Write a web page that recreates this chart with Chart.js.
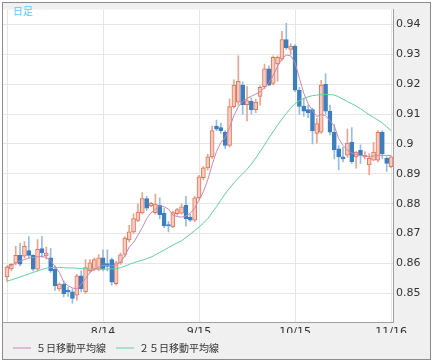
<!DOCTYPE html>
<html><head><meta charset="utf-8">
<script src="https://cdn.jsdelivr.net/npm/chart.js@4.4.1/dist/chart.umd.min.js"></script>
<style>html,body{margin:0;padding:0;background:#fff;}#wrap{width:434px;height:363px;position:relative;}</style>
</head><body><div id="wrap"><canvas id="c"></canvas></div>
<script>
// ---- data ----
const dates = ['7/15','7/16','7/17','7/20','7/21','7/22','7/23','7/24','7/27','7/28','7/29','7/30','7/31',
'8/3','8/4','8/5','8/6','8/7','8/10','8/11','8/12','8/13','8/14','8/17','8/18','8/19','8/20','8/21','8/24','8/25','8/26','8/27','8/28','8/31',
'9/1','9/2','9/3','9/4','9/7','9/8','9/9','9/10','9/11','9/14','9/15','9/16','9/17','9/18','9/21','9/22','9/23','9/24','9/25','9/28','9/29','9/30',
'10/1','10/2','10/5','10/6','10/7','10/8','10/9','10/12','10/13','10/14','10/15','10/16','10/19','10/20','10/21','10/22','10/23','10/26','10/27','10/28','10/29','10/30',
'11/2','11/3','11/4','11/5','11/6','11/9','11/10','11/11','11/12','11/13','11/16'];
const open = [.8555,.8582,.8601,.8627,.8624,.8643,.8627,.8581,.8650,.8625,
.8619,.8581,.8515,.8531,.8510,.8505,.8494,.8559,.8505,.8575,
.8581,.8581,.8619,.8600,.8613,.8532,.8602,.8630,.8679,.8706,
.8744,.8769,.8817,.8793,.8770,.8795,.8769,.8730,.8722,.8767,
.8768,.8795,.8755,.8745,.8820,.8887,.8920,.8957,.9060,.9055,
.9040,.8995,.9125,.9140,.9197,.9132,.9143,.9115,.9159,.9192,
.9252,.9203,.9268,.9284,.9350,.9317,.9328,.9180,.9126,.9115,
.9115,.9035,.9040,.9200,.9110,.9039,.8984,.8957,.8963,.9006,
.8957,.8979,.8957,.8930,.8946,.8946,.9039,.8952,.8924];
const high = [.8592,.8600,.8657,.8668,.8673,.8690,.8630,.8680,.8690,.8655,
.8651,.8592,.8535,.8542,.8520,.8515,.8564,.8575,.8613,.8613,
.8619,.8630,.8646,.8646,.8619,.8608,.8635,.8690,.8728,.8766,
.8800,.8837,.8825,.8805,.8832,.8820,.8785,.8740,.8775,.8785,
.8800,.8825,.8765,.8825,.8895,.8925,.8965,.9060,.9080,.9070,
.9045,.9150,.9215,.9295,.9208,.9192,.9155,.9150,.9195,.9268,
.9262,.9295,.9295,.9377,.9404,.9335,.9333,.9190,.9153,.9130,
.9120,.9085,.9213,.9235,.9130,.9065,.8995,.8990,.9050,.9055,
.8975,.8997,.8975,.8968,.9006,.9045,.9045,.8957,.8960];
const low = [.8540,.8575,.8595,.8592,.8618,.8618,.8575,.8575,.8620,.8615,
.8570,.8510,.8508,.8488,.8490,.8467,.8477,.8505,.8500,.8570,
.8575,.8575,.8575,.8575,.8527,.8527,.8597,.8622,.8672,.8700,
.8740,.8765,.8777,.8790,.8765,.8750,.8720,.8706,.8720,.8762,
.8765,.8725,.8740,.8740,.8815,.8880,.8912,.8952,.9045,.9035,
.8985,.8990,.9120,.9130,.9099,.9077,.9100,.9105,.9130,.9185,
.9195,.9198,.9210,.9280,.9317,.9300,.9175,.9099,.9093,.9088,
.9000,.9003,.9035,.9100,.9030,.8950,.8913,.8940,.8955,.8935,
.8919,.8935,.8950,.8897,.8945,.8940,.8950,.8908,.8920];
const close = [.8588,.8597,.8627,.8598,.8657,.8627,.8581,.8647,.8636,.8635,
.8575,.8526,.8531,.8499,.8505,.8483,.8559,.8515,.8586,.8602,
.8613,.8619,.8581,.8590,.8537,.8602,.8629,.8685,.8706,.8750,
.8772,.8817,.8785,.8801,.8799,.8763,.8726,.8726,.8770,.8780,
.8790,.8750,.8745,.8820,.8890,.8920,.8957,.9045,.9050,.9045,
.8995,.9125,.9197,.9210,.9132,.9145,.9115,.9140,.9190,.9252,
.9197,.9290,.9290,.9350,.9322,.9328,.9180,.9126,.9110,.9105,
.9044,.9068,.9197,.9110,.9040,.8980,.8957,.8950,.9003,.8941,
.8973,.8962,.8962,.8952,.8973,.9039,.8968,.8935,.8957];
const ma5 = [.8590,.8593,.8602,.8608,.8613,.8618,.8620,.8623,.8624,.8620,
.8610,.8590,.8570,.8538,.8525,.8518,.8515,.8530,.8550,.8570,
.8580,.8588,.8594,.8593,.8592,.8594,.8605,.8625,.8655,.8670,
.8695,.8720,.8750,.8770,.8782,.8793,.8790,.8782,.8762,.8757,
.8755,.8759,.8768,.8785,.8812,.8840,.8880,.8930,.8975,.9005,
.9022,.9055,.9095,.9125,.9142,.9153,.9160,.9167,.9175,.9188,
.9205,.9230,.9260,.9285,.9298,.9295,.9273,.9220,.9170,.9135,
.9112,.9092,.9099,.9095,.9078,.9060,.9018,.8995,.8979,.8970,
.8965,.8962,.8959,.8957,.8960,.8962,.8962,.8962,.8962];
const ma25 = [.8541,.8545,.8550,.8555,.8560,.8565,.8570,.8575,.8580,.8584,
.8586,.8587,.8587,.8586,.8585,.8585,.8584,.8583,.8582,.8581,
.8581,.8581,.8581,.8581,.8582,.8582,.8586,.8591,.8597,.8602,
.8607,.8611,.8616,.8621,.8629,.8637,.8645,.8653,.8661,.8669,
.8676,.8687,.8698,.8710,.8722,.8735,.8750,.8770,.8790,.8812,
.8833,.8852,.8870,.8886,.8900,.8915,.8933,.8953,.8975,.8997,
.9020,.9042,.9063,.9083,.9102,.9120,.9135,.9145,.9153,.9158,
.9162,.9164,.9165,.9166,.9165,.9164,.9158,.9150,.9142,.9135,
.9127,.9118,.9108,.9098,.9089,.9080,.9070,.9058,.9045];
const yTicks = [0.85,0.86,0.87,0.88,0.89,0.90,0.91,0.92,0.93,0.94];
const xTickDates = ['7/15','8/14','9/15','10/15','11/16'];
const seriesNames = ['５日移動平均線','２５日移動平均線'];
const chartLabel = '日足';

// ---- styles ----
const UP_FILL='#f7cbbd', UP_BORDER='#e2755a', UP_WICK='#eea390';
const DN_FILL='#3a7fc1', DN_WICK='#93bde2';
const MA5_COLOR='#cf86b2', MA25_COLOR='#5fd39d';

const up = close.map((c,i)=>c>=open[i]);
const wickData = dates.map((d,i)=>({x:i,y:[low[i],high[i]]}));
const bodyData = dates.map((d,i)=>({x:i,y:[open[i],close[i]]}));
const ma5Data = ma5.map((v,i)=>({x:i,y:v}));
const ma25Data = ma25.map((v,i)=>({x:i,y:v}));
const xTickIdx = xTickDates.map(d=>dates.indexOf(d));

const frame = {
  id:'frame',
  beforeDraw(chart){
    const ctx=chart.ctx, a=chart.chartArea;
    ctx.save();
    ctx.fillStyle='#ffffff'; ctx.fillRect(0,0,chart.width,chart.height);
    ctx.fillStyle='#f0f0f0'; ctx.fillRect(2,2,429,358);
    ctx.fillStyle='#ffffff'; ctx.fillRect(a.left,a.top,a.right-a.left,a.bottom-a.top);
    ctx.restore();
  },
  afterDraw(chart){
    const ctx=chart.ctx;
    ctx.save();
    ctx.strokeStyle='#8c8c8c'; ctx.lineWidth=1;
    ctx.strokeRect(2.5,2.5,428,357);
    ctx.fillStyle='#5cc6f2';
    ctx.font='10px "Noto Sans CJK JP"';
    ctx.textBaseline='middle';
    ctx.fillText(chartLabel,13,11);
    ctx.restore();
  }
};

new Chart(document.getElementById('c'),{
  type:'bar',
  data:{datasets:[
    {type:'line',label:seriesNames[0],data:ma5Data,borderColor:MA5_COLOR,backgroundColor:MA5_COLOR,borderWidth:1,pointRadius:0,tension:0,order:1},
    {type:'line',label:seriesNames[1],data:ma25Data,borderColor:MA25_COLOR,backgroundColor:MA25_COLOR,borderWidth:1,pointRadius:0,tension:0,order:2},
    {type:'bar',label:'wick',data:wickData,backgroundColor:up.map(u=>u?UP_WICK:DN_WICK),borderWidth:0,barThickness:1,grouped:false,order:4},
    {type:'bar',label:'body',data:bodyData,backgroundColor:up.map(u=>u?UP_FILL:DN_FILL),borderColor:up.map(u=>u?UP_BORDER:DN_FILL),borderWidth:1,borderSkipped:false,barThickness:4,minBarLength:1,grouped:false,order:3}
  ]},
  options:{
    responsive:true, maintainAspectRatio:false, animation:false, events:[],
    layout:{padding:{left:3,top:3,right:3,bottom:0}},
    plugins:{
      tooltip:{enabled:false},
      legend:{
        position:'bottom', align:'start',
        labels:{
          boxWidth:18, boxHeight:1, padding:10, color:'#333',
          font:{family:'"Noto Sans CJK JP"',size:10},
          generateLabels(chart){
            return chart.data.datasets.map((ds,i)=>({ds,i})).filter(o=>o.ds.type==='line').map(o=>({
              text:o.ds.label, fillStyle:o.ds.borderColor, strokeStyle:o.ds.borderColor, lineWidth:0, hidden:false, datasetIndex:o.i, fontColor:'#333'
            }));
          }
        }
      }
    },
    scales:{
      x:{
        type:'linear', min:-0.917, max:88.45, offset:false,
        afterBuildTicks(s){ s.ticks = xTickIdx.map(v=>({value:v})); },
        afterFit(s){ s.height=11; },
        grid:{color:'#e6e6e6',drawTicks:false,offset:false},
        border:{display:true,color:'#a0a0a0'},
        ticks:{autoSkip:false,maxRotation:0,padding:4,color:'#333',font:{family:'"DejaVu Sans"',size:11},
          callback(v){ const i=xTickIdx.indexOf(v); return i<=0?'':xTickDates[i]; }}
      },
      y:{
        type:'linear', position:'right', min:0.8404, max:0.9450,
        afterBuildTicks(s){ s.ticks = yTicks.map(v=>({value:v})); },
        afterFit(s){ s.width=38; },
        grid:{color:'#e6e6e6',drawTicks:false},
        border:{display:true,color:'#a0a0a0'},
        ticks:{padding:3,color:'#333',font:{family:'"DejaVu Sans"',size:11},
          callback(v){ return String(+(+v).toFixed(2)); }}
      }
    }
  },
  plugins:[frame]
});
</script></body></html>
